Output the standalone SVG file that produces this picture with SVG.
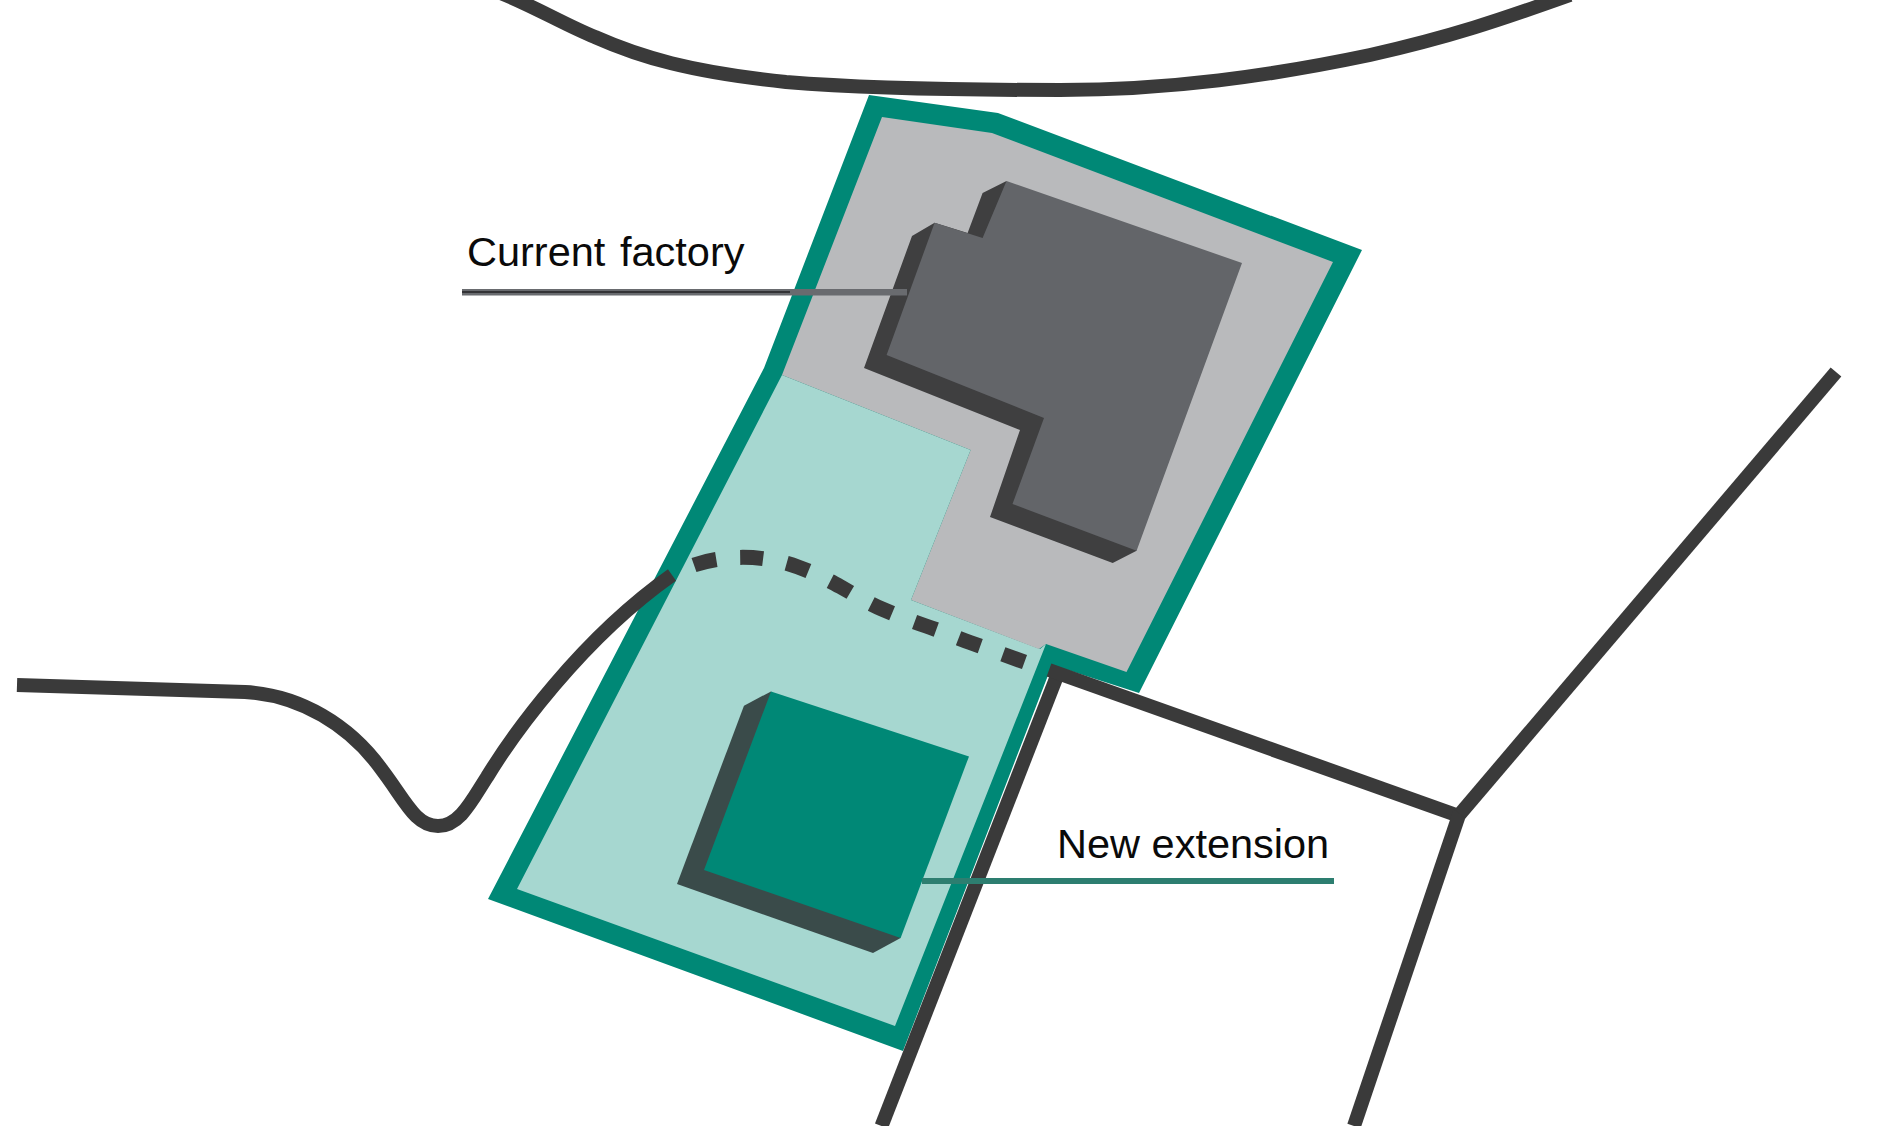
<svg xmlns="http://www.w3.org/2000/svg" width="1878" height="1126" viewBox="0 0 1878 1126">
<style>
.road{fill:none;stroke:#3a3a3a;stroke-width:14}
.label{font-family:"Liberation Sans",Arial,sans-serif;font-size:41.5px;fill:#0a0a0a}
</style>
<rect width="1878" height="1126" fill="#fff"/>
<g id="site">
<polygon fill="#008876" points="869,95 998,113 1362,250 1139,693 1052,665 903,1051 488,899 764,368"/>
<polygon id="site-new" fill="#a6d7d0" points="782,375 970.6,450 911,600 1040,649 1046,644 895,1026 517,889"/>
<polygon id="site-current" fill="#b9babc" points="882,117 992,133 1333,262 1126.5,672 1046,644 1039,649 911,600 970.6,450 782,375"/>
</g>
<g id="current-factory">
<polygon fill="#3f3f40" points="982.6,193 1006.5,181 1136.6,550.7 1112.7,563 990,517 1020,430 864,368 912,236 934.6,222.7 967.6,233"/>
<polygon fill="#636569" points="1006.5,181 1242,263 1136.6,550.7 1012.5,504 1044,418 886.6,355 934.6,222.7 982.6,238"/>
</g>
<g id="new-extension">
<polygon fill="#3a4b4a" points="744,705.7 771,691.4 900.6,938 873,953 677,884"/>
<polygon fill="#008876" points="771,691.4 969,756.4 900.6,938 704,870"/>
</g>
<g id="connectors">
<path class="road" d="M498,-8C530,4 565,25 595,37C640,57 690,72 786,82C860,88 960,90 1060,90C1170,90 1270,76 1370,55C1450,37 1500,20 1570,-5"/>
<path class="road" d="M17,685L245,692C300,695 350,725 382,770C405,800 415,826 438,826C460,826 472,800 487,777C512,736 580,640 672,575"/>
<path class="road" style="stroke-width:15" stroke-dasharray="23 24" d="M694,565C720,556 760,553 798,567C815,573 828,580 841,587C855,595 868,603 882,609C896,615 911,621 926,626C941,631 955,637 970,642.5L1030,664"/>
<path class="road" d="M1057,676L881.5,1126"/>
<path class="road" d="M1049,670L1459,816"/>
<path class="road" d="M1460,812L1354,1126"/>
<path class="road" d="M1460,814L1836,372"/>
<rect x="462" y="289" width="445" height="6.5" fill="#696b6f"/>
<rect x="462" y="291" width="328" height="2" fill="#333336"/>
<rect x="922" y="878" width="412" height="6" fill="#2d7e70"/>
</g>
<g id="labels">
<text class="label" x="467" y="266" word-spacing="3">Current factory</text>
<text class="label" x="1057" y="858">New extension</text>
</g>
</svg>
